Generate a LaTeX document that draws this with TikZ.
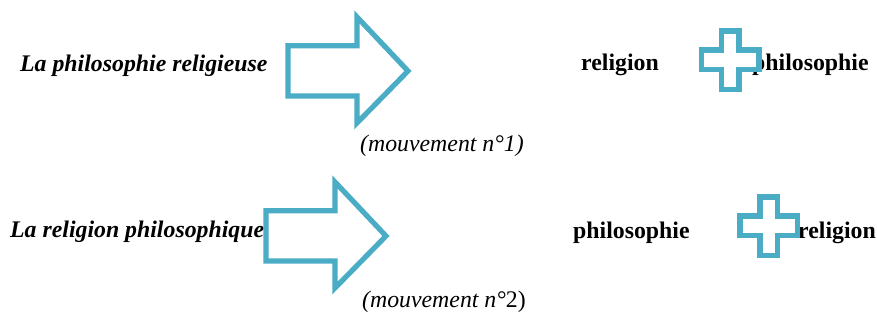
\documentclass[tikz,border=0pt]{standalone}
\usepackage{fontspec}
\setmainfont{Liberation Serif}
\definecolor{accentblue}{HTML}{4BACC6}
\tikzset{
  lbl/.style={anchor=base west, inner sep=0pt, font=\fontsize{23.8}{28}\selectfont\bfseries},
  lblit/.style={anchor=base west, inner sep=0pt, font=\fontsize{23.8}{28}\selectfont\bfseries\itshape},
  mvt/.style={anchor=base west, inner sep=0pt, font=\fontsize{23.8}{28}\selectfont\itshape},
  shapeline/.style={draw=accentblue, line width=5.2pt, fill=white, line join=miter}
}
\begin{document}
\begin{tikzpicture}[x=1pt,y=-1pt]
\useasboundingbox (0,0) rectangle (877,320);
% row 1 texts
\node[lblit] (t1) at (20,72) {La philosophie religieuse};
\node[lbl] (r1) at (581,71) {religion};
\node[lbl] (p1) at (752,71) {philosophie};
\node[mvt] (m1) at (360,152) {(mouvement n°1)};
% row 2 texts
\node[lblit] (t2) at (10,237) {La religion philosophique};
\node[lbl] (p2) at (573,238) {philosophie};
\node[lbl] (r2) at (798,238) {religion};
\node[mvt] (m2) at (362,307) {(mouvement n°{\upshape 2)}};
% arrows
\foreach \dx/\dy in {0/0, -22/165} {
  \begin{scope}[shift={(\dx,\dy)}]
  \draw[shapeline] (288,45.7) -- (357,45.7) -- (357,17) -- (408,71) -- (357,123) -- (357,96) -- (288,96) -- cycle;
  \end{scope}
}
% plus signs
\foreach \dx/\dy in {0/0, 38.5/166} {
  \begin{scope}[shift={(\dx,\dy)}]
  \draw[shapeline] (721.5,31) -- (739,31) -- (739,50) -- (759,50) -- (759,69.5) -- (739,69.5) -- (739,89.5) -- (721.5,89.5) -- (721.5,69.5) -- (701.5,69.5) -- (701.5,50) -- (721.5,50) -- cycle;
  \end{scope}
}
\end{tikzpicture}
\end{document}
